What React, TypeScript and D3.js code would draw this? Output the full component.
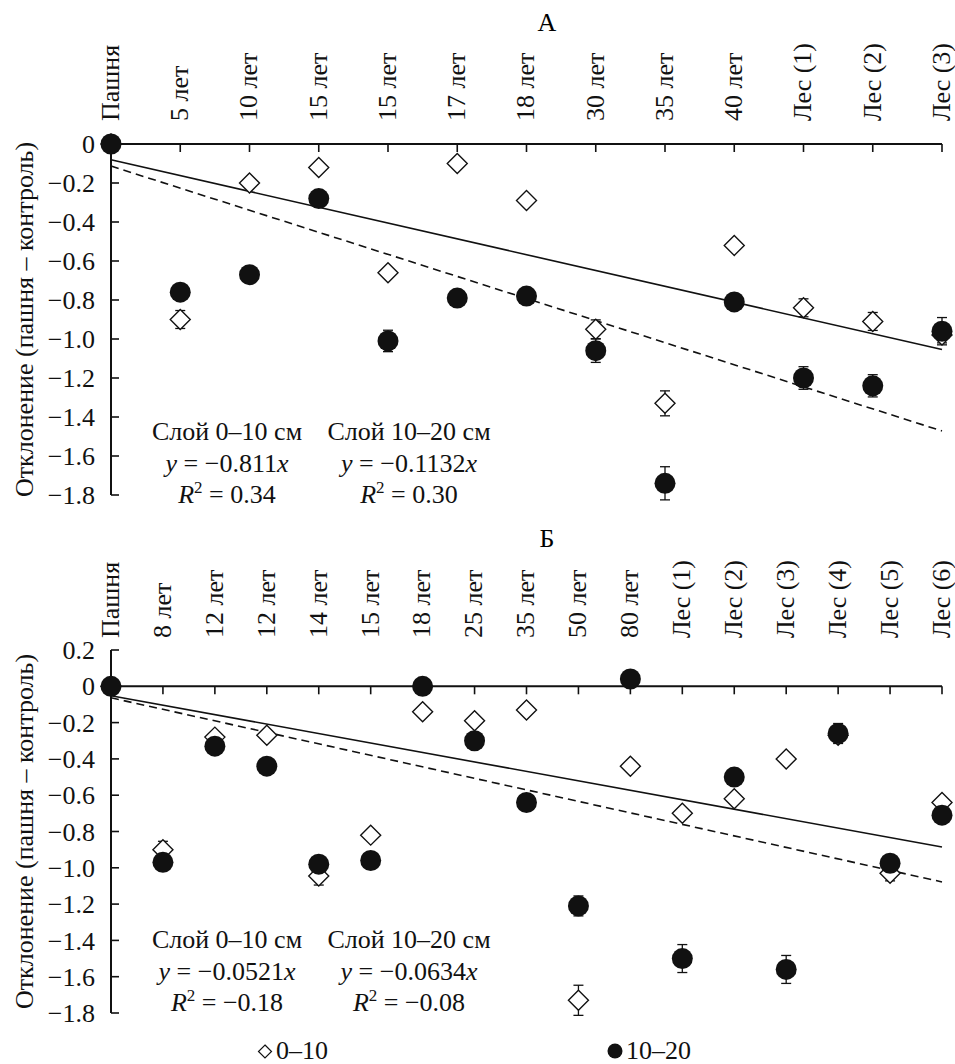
import React, { useEffect, useRef } from "react";
import * as d3 from "d3";

// Panel A (Б below): categories, values for layer 0–10 (diamonds) and 10–20 (circles)
const catsA = ["Пашня", "5 лет", "10 лет", "15 лет", "15 лет", "17 лет", "18 лет", "30 лет", "35 лет", "40 лет", "Лес (1)", "Лес (2)", "Лес (3)"];
const topA = [0, -0.9, -0.2, -0.12, -0.66, -0.1, -0.29, -0.95, -1.33, -0.52, -0.84, -0.91, -0.98];
const topErrA = [0, 0.046, 0, 0, 0, 0, 0, 0.048, 0.064, 0, 0.046, 0.046, 0.04];
const subA = [0, -0.76, -0.67, -0.28, -1.01, -0.79, -0.78, -1.06, -1.74, -0.81, -1.2, -1.24, -0.96];
const subErrA = [0, 0, 0, 0, 0.055, 0, 0, 0.06, 0.085, 0, 0.058, 0.057, 0.07];

const catsB = ["Пашня", "8 лет", "12 лет", "12 лет", "14 лет", "15 лет", "18 лет", "25 лет", "35 лет", "50 лет", "80 лет", "Лес (1)", "Лес (2)", "Лес (3)", "Лес (4)", "Лес (5)", "Лес (6)"];
const topB = [0, -0.9, -0.28, -0.27, -1.045, -0.82, -0.14, -0.19, -0.13, -1.73, -0.44, -0.7, -0.62, -0.4, -0.27, -1.03, -0.64];
const topErrB = [0, 0.046, 0, 0, 0.05, 0, 0, 0, 0, 0.083, 0, 0, 0, 0, 0, 0.042, 0];
const subB = [0, -0.97, -0.33, -0.44, -0.98, -0.96, 0, -0.3, -0.64, -1.21, 0.04, -1.5, -0.5, -1.56, -0.26, -0.975, -0.71];
const subErrB = [0, 0, 0, 0, 0, 0, 0, 0, 0, 0.055, 0, 0.077, 0, 0.077, 0.055, 0, 0];

const ticksA = [0, -0.2, -0.4, -0.6, -0.8, -1.0, -1.2, -1.4, -1.6, -1.8];
const ticksB = [0.2, 0, -0.2, -0.4, -0.6, -0.8, -1.0, -1.2, -1.4, -1.6, -1.8];

// trend slopes (Excel x = category index + 1)
const slopesA = [-0.0811, -0.1132];
const slopesB = [-0.0521, -0.0634];

const eqA = [["Слой 0–10 см", "−0.811", "0.34"], ["Слой 10–20 см", "−0.1132", "0.30"]];
const eqB = [["Слой 0–10 см", "−0.0521", "−0.18"], ["Слой 10–20 см", "−0.0634", "−0.08"]];

const FONT = "'Liberation Serif', 'DejaVu Serif', 'Noto Serif', 'Times New Roman', Times, FreeSerif, serif";
const FS = 26;

interface Panel {
  title: string;
  titleY: number;
  cats: string[];
  top: number[];
  topErr: number[];
  sub: number[];
  subErr: number[];
  ticks: number[];
  domain: [number, number];
  range: [number, number];
  labelY: number;
  slopes: number[];
  eq: string[][];
  eqY: number;
}

const fmt = (v: number) => (v === 0 ? "0" : (v < 0 ? "−" : "") + Math.abs(v).toFixed(1));

export default function App() {
  const svgRef = useRef<SVGSVGElement>(null);

  useEffect(() => {
    if (!svgRef.current) return;
    const svg = d3.select(svgRef.current);
    svg.selectAll("*").remove();

    const x0 = 111;
    const x1 = 942;

    const panels: Panel[] = [
      { title: "А", titleY: 31, cats: catsA, top: topA, topErr: topErrA, sub: subA, subErr: subErrA,
        ticks: ticksA, domain: [-1.8, 0], range: [495, 144], labelY: 121, slopes: slopesA, eq: eqA, eqY: 440 },
      { title: "Б", titleY: 547, cats: catsB, top: topB, topErr: topErrB, sub: subB, subErr: subErrB,
        ticks: ticksB, domain: [-1.8, 0.2], range: [1013, 650], labelY: 638, slopes: slopesB, eq: eqB, eqY: 948 },
    ];

    panels.forEach((p) => {
      const g = svg.append("g");
      const xScale = d3.scaleLinear().domain([0, p.cats.length - 1]).range([x0, x1]);
      const yScale = d3.scaleLinear().domain(p.domain).range(p.range);
      const y0 = yScale(0);

      // title
      g.append("text").attr("x", 547).attr("y", p.titleY).attr("text-anchor", "middle").text(p.title);

      // y axis
      g.append("line")
        .attr("x1", x0).attr("x2", x0)
        .attr("y1", yScale(p.domain[1])).attr("y2", yScale(p.domain[0]))
        .attr("stroke", "#111").attr("stroke-width", 2);
      p.ticks.forEach((t) => {
        g.append("line")
          .attr("x1", x0).attr("x2", x0 + 8)
          .attr("y1", yScale(t)).attr("y2", yScale(t))
          .attr("stroke", "#111").attr("stroke-width", 1.6);
        g.append("text")
          .attr("x", x0 - 16).attr("y", yScale(t)).attr("dy", "0.35em")
          .attr("text-anchor", "end").attr("fill", "#111")
          .text(fmt(t));
      });

      // y axis title
      const yMid = (p.range[0] + p.range[1]) / 2;
      g.append("text")
        .attr("transform", `translate(24,${yMid}) rotate(-90)`)
        .attr("text-anchor", "middle").attr("dy", "0.35em").attr("fill", "#111")
        .text("Отклонение (пашня – контроль)");

      // x axis at zero
      g.append("line")
        .attr("x1", x0).attr("x2", x1).attr("y1", y0).attr("y2", y0)
        .attr("stroke", "#111").attr("stroke-width", 2);
      p.cats.forEach((c, i) => {
        if (i > 0) {
          g.append("line")
            .attr("x1", xScale(i)).attr("x2", xScale(i))
            .attr("y1", y0).attr("y2", y0 + 8)
            .attr("stroke", "#111").attr("stroke-width", 1.6);
        }
        g.append("text")
          .attr("transform", `translate(${xScale(i)},${p.labelY}) rotate(-90)`)
          .attr("dy", "0.3em").attr("fill", "#111")
          .text(c);
      });

      // trend lines
      const idx = [0, p.cats.length - 1];
      p.slopes.forEach((s, k) => {
        const line = d3.line<number>().x((i) => xScale(i)).y((i) => yScale(s * (i + 1)));
        g.append("path")
          .datum(idx)
          .attr("d", line)
          .attr("fill", "none")
          .attr("stroke", "#111")
          .attr("stroke-width", 1.6)
          .attr("stroke-dasharray", k === 1 ? "8,5" : null);
      });

      // error bars
      const drawErr = (vals: number[], errs: number[]) => {
        vals.forEach((v, i) => {
          const e = errs[i];
          if (!e) return;
          const cx = xScale(i);
          g.append("line").attr("x1", cx).attr("x2", cx)
            .attr("y1", yScale(v + e)).attr("y2", yScale(v - e))
            .attr("stroke", "#111").attr("stroke-width", 1.3);
          [v + e, v - e].forEach((ev) => {
            g.append("line").attr("x1", cx - 5).attr("x2", cx + 5)
              .attr("y1", yScale(ev)).attr("y2", yScale(ev))
              .attr("stroke", "#111").attr("stroke-width", 1.3);
          });
        });
      };
      drawErr(p.top, p.topErr);
      drawErr(p.sub, p.subErr);

      // diamonds (0–10)
      const dm = 10;
      p.top.forEach((v, i) => {
        const cx = xScale(i);
        const cy = yScale(v);
        g.append("path")
          .attr("d", `M${cx},${cy - dm}L${cx + dm},${cy}L${cx},${cy + dm}L${cx - dm},${cy}Z`)
          .attr("fill", "#fff").attr("stroke", "#111").attr("stroke-width", 1.4);
      });

      // circles (10–20)
      p.sub.forEach((v, i) => {
        g.append("circle")
          .attr("cx", xScale(i)).attr("cy", yScale(v)).attr("r", 10.5)
          .attr("fill", "#111");
      });

      // equations
      const eqX = [227, 409];
      p.eq.forEach((e, k) => {
        const t1 = g.append("text").attr("x", eqX[k]).attr("y", p.eqY).attr("text-anchor", "middle").attr("fill", "#111");
        t1.text(e[0]);
        const t2 = g.append("text").attr("x", eqX[k]).attr("y", p.eqY + 32).attr("text-anchor", "middle").attr("fill", "#111");
        t2.append("tspan").attr("font-style", "italic").text("y");
        t2.append("tspan").text(` = ${e[1]}`);
        t2.append("tspan").attr("font-style", "italic").text("x");
        const t3 = g.append("text").attr("x", eqX[k]).attr("y", p.eqY + 63).attr("text-anchor", "middle").attr("fill", "#111");
        t3.append("tspan").attr("font-style", "italic").text("R");
        t3.append("tspan").attr("dy", -10).attr("font-size", 17).text("2");
        t3.append("tspan").attr("dy", 10).text(` = ${e[2]}`);
      });
    });

    // legend
    const lg = svg.append("g");
    lg.append("path")
      .attr("d", "M265,1045L271.5,1051.5L265,1058L258.5,1051.5Z")
      .attr("fill", "#fff").attr("stroke", "#111").attr("stroke-width", 1.2);
    lg.append("text").attr("x", 276).attr("y", 1059).attr("fill", "#111").text("0–10");
    lg.append("circle").attr("cx", 615).attr("cy", 1051).attr("r", 7.5).attr("fill", "#111");
    lg.append("text").attr("x", 626).attr("y", 1059).attr("fill", "#111").text("10–20");
  }, []);

  return (
    <svg
      ref={svgRef}
      width={955}
      height={1064}
      style={{ position: "absolute", left: 0, top: 0, background: "#fff", display: "block", fontFamily: FONT, fontSize: FS }}
    />
  );
}
